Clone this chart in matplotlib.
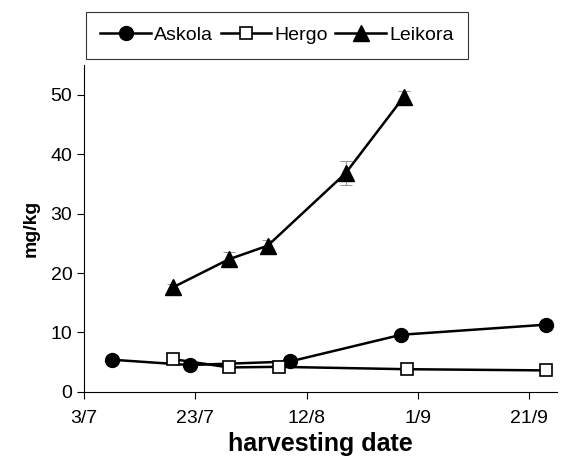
import matplotlib.pyplot as plt

# days counted from 3/7
ticks_days = [0, 20, 40, 60, 80]
tick_labels = ["3/7", "23/7", "12/8", "1/9", "21/9"]

askola_days = [5, 19, 37, 57, 83]
askola = [5.4, 4.5, 5.1, 9.6, 11.3]

hergo_days = [16, 26, 35, 58, 83]
hergo = [5.5, 4.1, 4.2, 3.8, 3.6]

leikora_days = [16, 26, 33, 47, 57.5]
leikora = [17.6, 22.3, 24.6, 36.8, 49.7]
leikora_err = [0.6, 1.2, 1.0, 2.0, 1.0]

plt.rcParams['font.family'] = ['Liberation Sans', 'DejaVu Sans']

fig = plt.figure(figsize=(5.76, 4.62), dpi=100)
ax = fig.add_axes([0.146, 0.152, 0.821, 0.707])

ax.errorbar(leikora_days, leikora, yerr=leikora_err, fmt='none', ecolor='#999999',
            elinewidth=0.8, capsize=4, capthick=0.8)
l1, = ax.plot(askola_days, askola, color='black', lw=1.8, marker='o', ms=10,
              mfc='black', mec='black', label='Askola')
l2, = ax.plot(hergo_days, hergo, color='black', lw=1.8, marker='s', ms=9,
              mfc='white', mec='black', mew=1.2, label='Hergo')
l3, = ax.plot(leikora_days, leikora, color='black', lw=1.8, marker='^', ms=11,
              mfc='black', mec='black', label='Leikora')

ax.set_xlim(0, 85)
ax.set_ylim(0, 55)
ax.set_yticks([0, 10, 20, 30, 40, 50])
ax.set_xticks(ticks_days)
ax.set_xticklabels(tick_labels)
ax.spines['top'].set_visible(False)
ax.spines['right'].set_visible(False)
ax.tick_params(axis='both', labelsize=14, direction='out', length=5)
ax.tick_params(axis='x', pad=8)

ax.set_xlabel('harvesting date', fontsize=18, fontweight='bold', labelpad=4)
ax.set_ylabel('mg/kg', fontsize=14, fontweight='bold', labelpad=8)

leg = fig.legend(handles=[l1, l2, l3], loc='upper left', bbox_to_anchor=(0.149, 0.974),
                 borderaxespad=0, ncol=3, fontsize=14, frameon=True, fancybox=False,
                 edgecolor='black', handlelength=2.6, handletextpad=0.15,
                 columnspacing=0.4, borderpad=0.75)
leg.get_frame().set_linewidth(0.8)

fig.savefig('out.png', dpi=100)
